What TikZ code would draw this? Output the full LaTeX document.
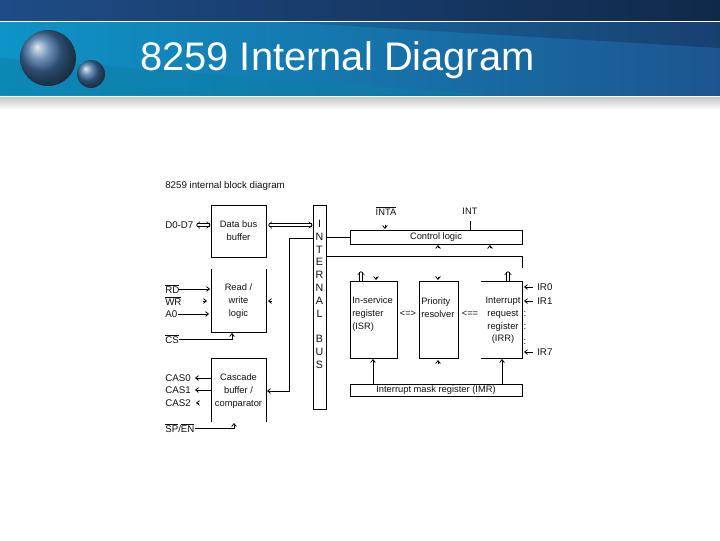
\documentclass[tikz,border=0pt]{standalone}
\usepackage{fontspec}
\setmainfont{Liberation Sans}
\usetikzlibrary{arrows.meta,calc}

\definecolor{bandleft}{HTML}{1F4C86}
\definecolor{bandright}{HTML}{10294A}
\definecolor{blueleft}{HTML}{0E94C6}
\definecolor{blueright}{HTML}{1D5590}
\definecolor{wedgeright}{HTML}{17406F}
\definecolor{wedgelow}{HTML}{0C7FA6}
\definecolor{diagtext}{HTML}{111111}

\tikzset{
    block/.style = {draw=black, line width=0.6pt},
    wire/.style = {black, line width=0.6pt},
    feed/.style = {wire, -{Straight Barb[length=2.2pt,width=3.6pt]}},
    dbl/.style = {double, double distance=1.4pt, line width=0.45pt, {Straight Barb[length=2.6pt,width=5pt]}-{Straight Barb[length=2.6pt,width=5pt]}},
    dblup/.style = {double, double distance=1.4pt, line width=0.45pt, -{Straight Barb[length=2.6pt,width=5pt]}},
    tag/.style = {inner sep=0pt, text=diagtext, font=\fontsize{7.3}{7.3}\selectfont, anchor=west},
    inbox/.style = {inner sep=0pt, text=diagtext, font=\fontsize{7}{9.6}\selectfont, align=center},
}

\begin{document}
\begin{tikzpicture}[x=0.75pt, y=-0.75pt]
    \useasboundingbox (0,0) rectangle (720,540);

    % Header bands
    \fill[white] (0,0) rectangle (720,540);
    \shade[left color=bandleft, right color=bandright] (0,0) rectangle (720,20);
    \shade[left color=blueleft, right color=blueright] (0,22) rectangle (720,95);
    \shade[left color=blueright!70!blueleft, right color=wedgeright] (283,22) -- (720,22) -- (720,48) -- cycle;
    \fill[wedgelow, opacity=0.55] (0,58) -- (490,95) -- (0,95) -- cycle;
    \shade[top color=black!22, bottom color=white] (0,97) rectangle (720,110);

    % Spheres
    \shade[ball color=blueright!85!white] (48,58) circle (28);
    \shade[ball color=blueright!85!white] (91,74) circle (14);

    \node[text=white, inner sep=0pt, anchor=west, font=\fontsize{29.9}{31}\selectfont] (title) at (140,60) {8259 Internal Diagram};

    % Left column
    \node[tag] (caption) at (165,186) {8259 internal block diagram};
    \node[tag] (dbus) at (165,225) {D0-D7};
    \node[tag] (rd) at (165,289) {$\overline{\mbox{RD}}$};
    \node[tag] (wr) at (165,301) {$\overline{\mbox{WR}}$};
    \node[tag] (azero) at (165,314) {A0};
    \node[tag] (cs) at (165,339) {$\overline{\mbox{CS}}$};
    \node[tag] (caszero) at (165,378) {CAS0};
    \node[tag] (casone) at (165,390) {CAS1};
    \node[tag] (castwo) at (165,403) {CAS2};
    \node[tag] (spen) at (165,428) {$\overline{\mbox{SP}}$/$\overline{\mbox{EN}}$};

    % Left blocks
    \node[block, minimum width=41.25pt, minimum height=39pt, inner sep=0pt, inbox] (buffer) at (238.5,231) {Data bus\\buffer};
    \node[inbox] (rwlogic) at (238.5,301) {Read /\\write\\logic};
    \node[inbox] (cascade) at (238.5,391) {Cascade\\buffer /\\comparator};
    \draw[block] (211,269) -- (211,332) -- (266,332) -- (266,269);
    \draw[block] (211,422) -- (211,358) -- (266,358) -- (266,422);

    % Internal bus
    \node[block, minimum width=9.75pt, minimum height=153pt, inner sep=0pt] (bus) at (319.5,307) {};
    \foreach \busy/\busletter in {224/I,237/N,250/T,262/E,275/R,288/N,301/A,314/L,339/B,352/U,365/S}
        \node[inbox, font=\fontsize{8}{8}\selectfont] (bus\busy) at (319.5,\busy) {\busletter};

    % Right blocks
    \node[block, minimum width=129pt, minimum height=10.5pt, inner sep=0pt, inbox] (control) at (436,237) {Control logic};
    \node[block, minimum width=35.25pt, minimum height=57.75pt, inner sep=0pt] (isr) at (373.5,319.5) {};
    \node[inbox, anchor=west, align=left] (isrtext) at (352,314) {In-service\\register\\(ISR)};
    \node[block, minimum width=29.25pt, minimum height=57.75pt, inner sep=0pt] (priority) at (438.5,319.5) {};
    \node[inbox, anchor=west, align=left] (prioritytext) at (421,307.5) {Priority\\resolver};
    \node[inbox] (irr) at (503,320.5) {Interrupt\\request\\register\\(IRR)};
    \draw[block] (481,281) -- (522,281) -- (522,358) -- (481,358);
    \node[block, minimum width=129pt, minimum height=9pt, inner sep=0pt, inbox] (imr) at (436,390) {Interrupt mask register (IMR)};

    % Interrupt side
    \node[inbox] (inta) at (386,211) {$\overline{\mbox{INTA}}$};
    \node[inbox] (intline) at (470,211) {INT};
    \foreach \iry/\irname in {287/IR0,301/IR1,352/IR7}
        \node[tag] (\irname) at (537,\iry) {\irname};
    \foreach \dotsy in {314,327,342}
        \node[inbox] (dots\dotsy) at (525,\dotsy) {:};
    \node[inbox] (isrpri) at (408,314) {<=>};
    \node[inbox] (pripri) at (470,314) {<==};

    % Connectors
    \coordinate (dbleft) at (196,225);
    \draw[dbl] (dbleft) -- (buffer.west |- dbleft);
    \coordinate (dbmid) at (268,225);
    \draw[dbl] (dbmid) -- (bus.west |- dbmid);
    \coordinate (rdstart) at (178,289);
    \draw[feed] (rdstart) -- (210,289);
    \coordinate (wrstart) at (203,301);
    \draw[feed] (wrstart) -- (207,301);
    \coordinate (azstart) at (178,314);
    \draw[feed] (azstart) -- (209,314);
    \coordinate (csstart) at (179,339);
    \draw[feed] (csstart) -- (232,339) -- (232,333);
    \coordinate (spstart) at (195,428);
    \draw[feed] (spstart) -- (234,428) -- (234,423);
    \coordinate (casa) at (211,378);
    \coordinate (casb) at (211,390);
    \coordinate (casc) at (199,403);
    \draw[feed] (casa) -- (195,378);
    \draw[feed] (casb) -- (195,390);
    \draw[feed] (casc) -- (196,403);
    \coordinate (rwback) at (272,301);
    \draw[feed] (rwback) -- (268,301);

    \draw[wire] (bus.east |- control.west) -- (control.west);
    \coordinate (busupper) at (326,256);
    \draw[wire] (busupper) -- (522,256) -- (522,268);
    \coordinate (inner) at (313,238);
    \draw[feed] (inner) -- (289,238) -- (289,391) -- (267,391);

    \coordinate (intaend) at (385,225);
    \draw[feed] (intaend) -- (385,229);
    \coordinate (intstart) at (470,221);
    \draw[wire] (intstart) -- (470,230);
    \coordinate (ctla) at (438,248);
    \coordinate (ctlb) at (490,248);
    \draw[feed] (ctla) -- (438,245);
    \draw[feed] (ctlb) -- (490,245);
    \coordinate (isrup) at (361,281);
    \draw[dblup] (isrup) -- (361,271);
    \coordinate (irrup) at (508,281);
    \draw[dblup] (irrup) -- (508,271);
    \coordinate (isrv) at (376,277);
    \draw[feed] (isrv) -- (376,280);
    \coordinate (priv) at (438,277);
    \draw[feed] (priv) -- (438,280);
    \coordinate (maska) at (373,384);
    \coordinate (maskb) at (502,384);
    \coordinate (maskc) at (438,364);
    \draw[feed] (maska) -- (373,359);
    \draw[feed] (maskb) -- (502,359);
    \draw[feed] (maskc) -- (438,360);
    \foreach \iry in {287,301,352}
        \draw[feed] (533,\iry) -- (524,\iry);
\end{tikzpicture}
\end{document}
